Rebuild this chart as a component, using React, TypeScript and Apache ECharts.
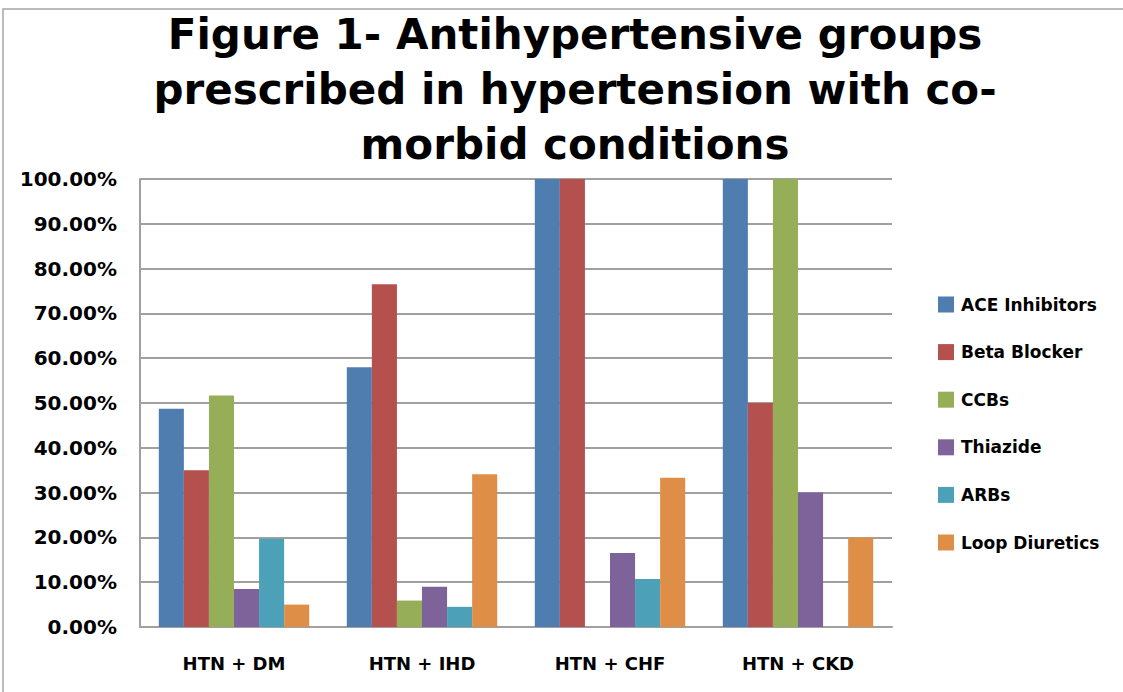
import React, { useEffect, useRef } from "react";
import * as echarts from "echarts";

const categories = ["HTN + DM", "HTN + IHD", "HTN + CHF", "HTN + CKD"];
const seriesNames = ["ACE Inhibitors", "Beta Blocker", "CCBs", "Thiazide", "ARBs", "Loop Diuretics"];
const aceInhibitors = [48.7, 58.0, 100, 100];
const betaBlocker = [35.0, 76.5, 100, 50];
const ccbs = [51.7, 5.9, 0, 100];
const thiazide = [8.5, 9.0, 16.5, 30];
const arbs = [19.7, 4.5, 10.7, 0];
const loopDiuretics = [5.0, 34.1, 33.3, 20];
const seriesValues = [aceInhibitors, betaBlocker, ccbs, thiazide, arbs, loopDiuretics];
const colors = ["#4f7db0", "#b4504e", "#97ae58", "#7d6399", "#4ca1b8", "#df8e47"];
const titleText = "Figure 1- Antihypertensive groups\nprescribed in hypertension with co-\nmorbid conditions";

export default function App() {
  const ref = useRef<HTMLDivElement>(null);
  useEffect(() => {
    document.body.style.margin = "0";
    const chart = echarts.init(ref.current!, null, { renderer: "svg" });
    const font = "DejaVu Sans";
    chart.setOption({
      animation: false,
      backgroundColor: "#ffffff",
      color: colors,
      title: {
        text: titleText,
        left: 570,
        top: 2,
        textAlign: "center",
        textStyle: {
          fontFamily: font,
          fontWeight: "bold",
          fontSize: 42,
          lineHeight: 55,
          color: "#000",
        },
      },
      graphic: [
        {
          type: "rect",
          shape: { x: 3, y: 9, width: 1140, height: 700 },
          style: { fill: "none", stroke: "#a6a6a6", lineWidth: 1.5 },
          silent: true,
          z: -1,
        },
      ],
      legend: {
        orient: "vertical",
        left: 933,
        top: 291,
        itemWidth: 16,
        itemHeight: 16,
        itemGap: 30.6,
        icon: "rect",
        textStyle: { fontFamily: font, fontWeight: "bold", fontSize: 17, color: "#000", padding: [0, 0, 0, 2] },
        data: seriesNames,
      },
      grid: { left: 140, right: 231, top: 179, bottom: 65 },
      xAxis: {
        type: "category",
        data: categories,
        axisLine: { lineStyle: { color: "#a0a0a0", width: 2 } },
        axisTick: { show: false },
        axisLabel: {
          fontFamily: font,
          fontWeight: "bold",
          fontSize: 18,
          color: "#000",
          margin: 27,
        },
      },
      yAxis: {
        type: "value",
        min: 0,
        max: 100,
        interval: 10,
        axisLine: { show: true, lineStyle: { color: "#a0a0a0", width: 2 } },
        axisTick: { show: false },
        splitLine: { lineStyle: { color: "#a0a0a0", width: 2 } },
        axisLabel: {
          fontFamily: font,
          fontWeight: "bold",
          fontSize: 20,
          color: "#000",
          margin: 23,
          formatter: (v: number) => v.toFixed(2) + "%",
        },
      },
      series: seriesNames.map((name, i) => ({
        name,
        type: "bar",
        data: seriesValues[i],
        barGap: "0%",
        barCategoryGap: "20%",
        itemStyle: { color: colors[i] },
      })),
    });
    return () => chart.dispose();
  }, []);
  return <div ref={ref} style={{ width: 1123, height: 692 }} />;
}
